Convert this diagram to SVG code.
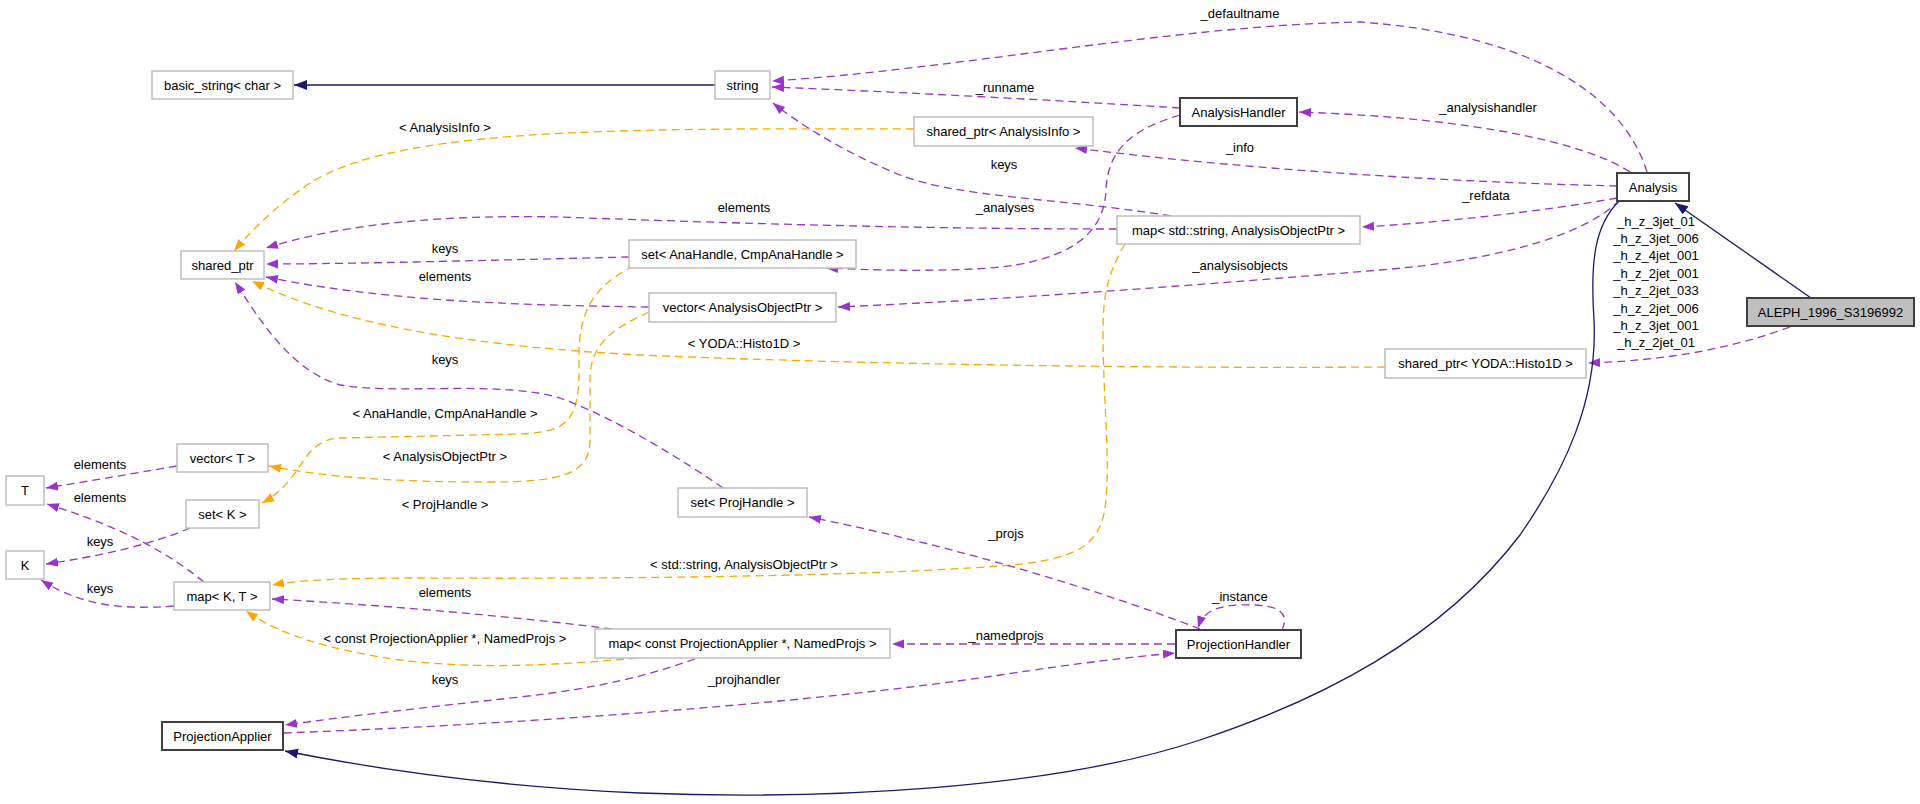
<svg xmlns="http://www.w3.org/2000/svg" width="1920" height="804" viewBox="0 0 1920 804">
<style>
text{font-family:"Liberation Sans",Arial,Helvetica,sans-serif;font-size:13px;fill:#000;text-anchor:middle}
.box{fill:#fff;stroke:#bfbfbf;stroke-width:1.5}
.doc{fill:#fff;stroke:#404040;stroke-width:2}
.main{fill:#bfbfbf;stroke:#404040;stroke-width:2}
.p{fill:none;stroke:#9a32cd;stroke-width:1.3;stroke-dasharray:8,5;marker-end:url(#ap)}
.o{fill:none;stroke:#ffa500;stroke-width:1.3;stroke-dasharray:8,5;marker-end:url(#ao)}
.n{fill:none;stroke:#191970;stroke-width:1.3;marker-end:url(#an)}
</style>
<defs>
<marker id="ap" markerUnits="userSpaceOnUse" markerWidth="13" markerHeight="10" refX="12" refY="4.5" orient="auto"><path d="M0,0 L12,4.5 L0,9 z" fill="#9a32cd"/></marker>
<marker id="ao" markerUnits="userSpaceOnUse" markerWidth="13" markerHeight="10" refX="12" refY="4.5" orient="auto"><path d="M0,0 L12,4.5 L0,9 z" fill="#ffa500"/></marker>
<marker id="an" markerUnits="userSpaceOnUse" markerWidth="14" markerHeight="11" refX="13" refY="5" orient="auto"><path d="M0,0 L13,5 L0,10 z" fill="#191970"/></marker>
</defs>
<rect width="1920" height="804" fill="#fff"/>
<g id="connectors">
<path class="n" d="M715,85 L294,85"/>
<path class="p" d="M1647,172 C1625,100 1540,35 1360,22 C1180,25 950,70 772,81"/>
<path class="p" d="M1180,108 C1050,100 900,92 772,87"/>
<path class="p" d="M1630,172 C1590,145 1480,118 1299,112"/>
<path class="o" d="M914,129 C600,128 380,128 300,190 C272,210 250,232 234,251"/>
<path class="p" d="M1617,186 C1450,182 1250,170 1075,148"/>
<path class="p" d="M1171,216 C1060,198 960,198 900,175 C850,155 800,125 773,103"/>
<path class="p" d="M1117,229 C900,229 700,222 560,217 C420,214 330,228 266,248"/>
<path class="p" d="M1617,198 C1550,210 1450,222 1362,227"/>
<path class="p" d="M1180,115 C1130,130 1108,150 1106,190 C1104,240 1060,262 990,268 C930,272 870,270 826,268"/>
<path class="p" d="M629,257 C500,260 350,264 266,264"/>
<path class="o" d="M634,266 C595,285 578,310 579,360 C580,420 570,432 520,434 L340,438 C300,440 305,480 262,503"/>
<path class="o" d="M649,312 C610,330 590,345 590,380 L590,440 C590,475 560,482 490,482 C400,482 330,478 269,466"/>
<path class="p" d="M649,307 C500,305 380,300 266,277"/>
<path class="p" d="M1620,200 C1580,240 1480,262 1380,270 C1200,285 1000,300 838,307"/>
<path class="o" d="M1385,367 C1100,369 800,362 640,355 C450,345 330,320 252,281"/>
<path class="p" d="M1790,327 C1740,345 1680,360 1588,363"/>
<path class="n" d="M1811,298 L1675,203"/>
<path class="n" d="M1619,201 C1595,225 1590,260 1594,320 C1598,400 1565,470 1520,535 C1440,640 1320,700 1200,740 C1050,790 820,800 640,793 C500,787 380,770 285,751"/>
<path class="p" d="M284,733 C500,725 800,705 1000,675 C1080,663 1130,657 1175,653"/>
<path class="p" d="M695,659 C650,675 600,688 520,697 C420,708 350,716 285,725"/>
<path class="o" d="M650,657 C560,665 480,670 400,660 C330,650 280,635 246,611"/>
<path class="p" d="M612,629 C500,615 380,605 272,599"/>
<path class="o" d="M1125,244 C1110,270 1103,290 1103,330 C1103,400 1110,450 1106,500 C1102,545 1080,560 1000,566 C850,577 600,579 420,578 C340,578 300,580 272,585"/>
<path class="p" d="M1200,629 C1100,590 950,545 809,517"/>
<path class="p" d="M1282,630 C1292,608 1270,604 1240,605 C1215,606 1203,612 1198,628"/>
<path class="p" d="M1175,644 L892,644"/>
<path class="p" d="M723,488 C690,465 620,420 560,398 C500,380 400,395 340,385 C290,370 260,320 235,282"/>
<path class="p" d="M177,466 C130,474 90,481 46,488"/>
<path class="p" d="M204,582 C170,555 130,530 47,504"/>
<path class="p" d="M190,528 C150,545 100,556 46,564"/>
<path class="p" d="M174,606 C120,610 80,605 41,580"/>
</g>
<g id="edge-labels">
<text x="1240" y="17.5">_defaultname</text>
<text x="1005" y="91.5">_runname</text>
<text x="1488" y="111.5">_analysishandler</text>
<text x="445" y="131.5">&lt; AnalysisInfo &gt;</text>
<text x="1240" y="151.5">_info</text>
<text x="1004" y="168.5">keys</text>
<text x="744" y="211.5">elements</text>
<text x="1005" y="211.5">_analyses</text>
<text x="1486" y="199.5">_refdata</text>
<text x="445" y="252.5">keys</text>
<text x="1240" y="269.5">_analysisobjects</text>
<text x="445" y="280.5">elements</text>
<text x="744" y="347.5">&lt; YODA::Histo1D &gt;</text>
<text x="445" y="363.5">keys</text>
<text x="445" y="417.5">&lt; AnaHandle, CmpAnaHandle &gt;</text>
<text x="445" y="460.5">&lt; AnalysisObjectPtr &gt;</text>
<text x="100" y="468.5">elements</text>
<text x="100" y="501.5">elements</text>
<text x="445" y="508.5">&lt; ProjHandle &gt;</text>
<text x="1006" y="537.5">_projs</text>
<text x="100" y="545.5">keys</text>
<text x="744" y="568.5">&lt; std::string, AnalysisObjectPtr &gt;</text>
<text x="100" y="592.5">keys</text>
<text x="445" y="596.5">elements</text>
<text x="1240" y="600.5">_instance</text>
<text x="1006" y="639.5">_namedprojs</text>
<text x="445" y="642.5">&lt; const ProjectionApplier *, NamedProjs &gt;</text>
<text x="445" y="683.5">keys</text>
<text x="744" y="683.5">_projhandler</text>
<text x="1656" y="225.5">_h_z_3jet_01</text>
<text x="1656" y="242.9">_h_z_3jet_006</text>
<text x="1656" y="260.3">_h_z_4jet_001</text>
<text x="1656" y="277.7">_h_z_2jet_001</text>
<text x="1656" y="295.1">_h_z_2jet_033</text>
<text x="1656" y="312.5">_h_z_2jet_006</text>
<text x="1656" y="329.9">_h_z_3jet_001</text>
<text x="1656" y="347.3">_h_z_2jet_01</text>
</g>
<g id="node-basic_string"><rect class="box" x="152" y="71" width="141" height="28"/><text x="222.5" y="89.5">basic_string&lt; char &gt;</text></g>
<g id="node-string"><rect class="box" x="715" y="71" width="55" height="28"/><text x="742.5" y="89.5">string</text></g>
<g id="node-AnalysisHandler"><rect class="doc" x="1180" y="98" width="117" height="28"/><text x="1238.5" y="116.5">AnalysisHandler</text></g>
<g id="node-shared_ptr_AnalysisInfo"><rect class="box" x="914" y="117" width="179" height="29"/><text x="1003.5" y="136">shared_ptr&lt; AnalysisInfo &gt;</text></g>
<g id="node-Analysis"><rect class="doc" x="1617" y="173" width="72" height="28"/><text x="1653" y="191.5">Analysis</text></g>
<g id="node-map_string_AOP"><rect class="box" x="1117" y="216" width="243" height="28"/><text x="1238.5" y="234.5">map&lt; std::string, AnalysisObjectPtr &gt;</text></g>
<g id="node-set_AnaHandle"><rect class="box" x="629" y="240" width="227" height="28"/><text x="742.5" y="258.5">set&lt; AnaHandle, CmpAnaHandle &gt;</text></g>
<g id="node-shared_ptr"><rect class="box" x="181" y="251" width="83" height="28"/><text x="222.5" y="269.5">shared_ptr</text></g>
<g id="node-vector_AOP"><rect class="box" x="649" y="293" width="187" height="29"/><text x="742.5" y="312">vector&lt; AnalysisObjectPtr &gt;</text></g>
<g id="node-ALEPH"><rect class="main" x="1747" y="298" width="167" height="28"/><text x="1830.5" y="316.5">ALEPH_1996_S3196992</text></g>
<g id="node-shared_ptr_Histo1D"><rect class="box" x="1385" y="349" width="201" height="29"/><text x="1485.5" y="368">shared_ptr&lt; YODA::Histo1D &gt;</text></g>
<g id="node-vector_T"><rect class="box" x="177" y="444" width="91" height="28"/><text x="222.5" y="462.5">vector&lt; T &gt;</text></g>
<g id="node-T"><rect class="box" x="6" y="476" width="38" height="29"/><text x="25" y="495">T</text></g>
<g id="node-set_ProjHandle"><rect class="box" x="678" y="488" width="129" height="29"/><text x="742.5" y="507">set&lt; ProjHandle &gt;</text></g>
<g id="node-set_K"><rect class="box" x="186" y="500" width="73" height="28"/><text x="222.5" y="518.5">set&lt; K &gt;</text></g>
<g id="node-K"><rect class="box" x="6" y="551" width="38" height="28"/><text x="25" y="569.5">K</text></g>
<g id="node-map_K_T"><rect class="box" x="174" y="582" width="96" height="28"/><text x="222" y="600.5">map&lt; K, T &gt;</text></g>
<g id="node-map_PA_NamedProjs"><rect class="box" x="595" y="629" width="295" height="29"/><text x="742.5" y="648">map&lt; const ProjectionApplier *, NamedProjs &gt;</text></g>
<g id="node-ProjectionHandler"><rect class="doc" x="1176" y="630" width="125" height="28"/><text x="1238.5" y="648.5">ProjectionHandler</text></g>
<g id="node-ProjectionApplier"><rect class="doc" x="162" y="722" width="121" height="28"/><text x="222.5" y="740.5">ProjectionApplier</text></g>
</svg>
